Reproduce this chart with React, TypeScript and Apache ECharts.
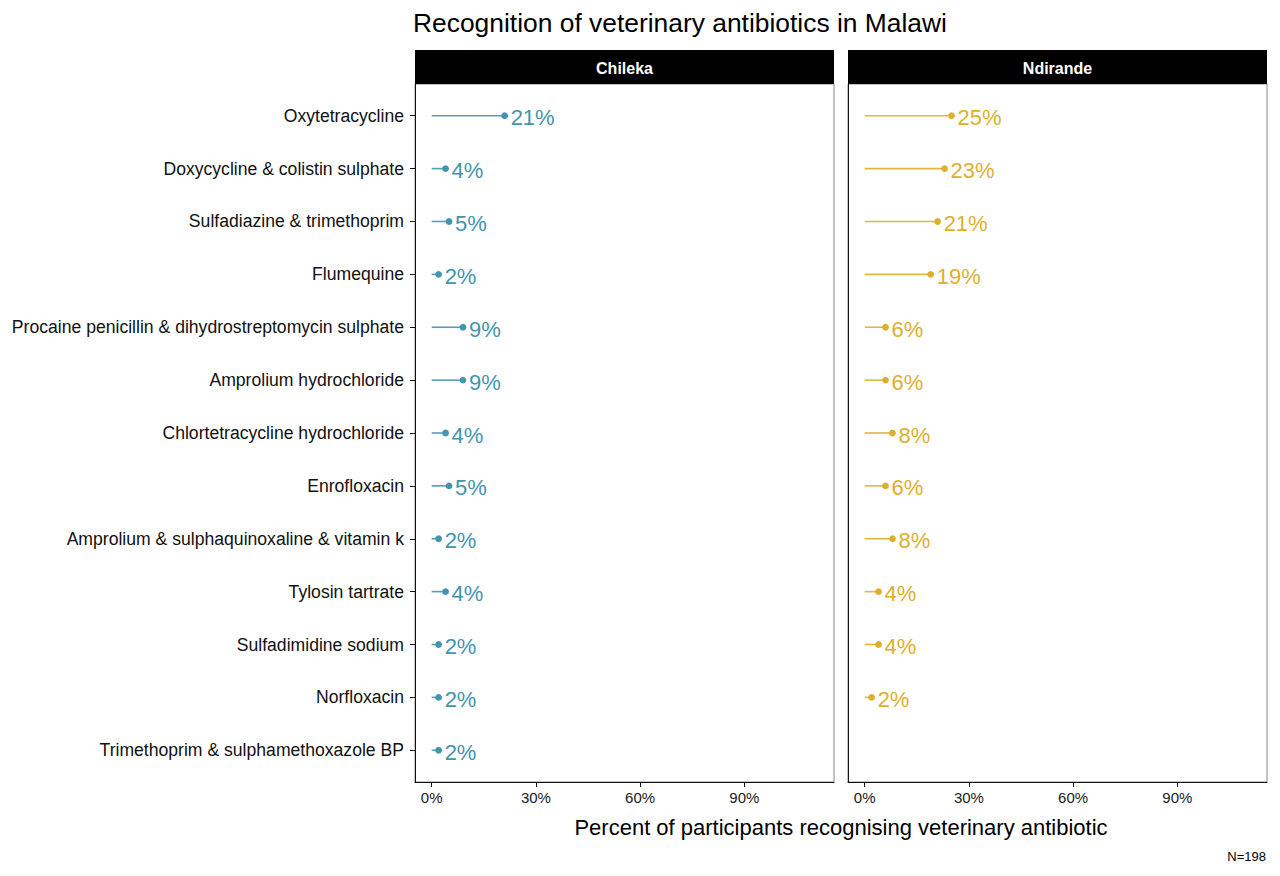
import React, { useEffect, useRef } from "react";
import * as echarts from "echarts";

// drug names, top to bottom
const drugs: string[] = [
  "Oxytetracycline",
  "Doxycycline & colistin sulphate",
  "Sulfadiazine & trimethoprim",
  "Flumequine",
  "Procaine penicillin & dihydrostreptomycin sulphate",
  "Amprolium hydrochloride",
  "Chlortetracycline hydrochloride",
  "Enrofloxacin",
  "Amprolium & sulphaquinoxaline & vitamin k",
  "Tylosin tartrate",
  "Sulfadimidine sodium",
  "Norfloxacin",
  "Trimethoprim & sulphamethoxazole BP",
];

const sites: string[] = ["Chileka", "Ndirande"];

// percent recognising, null = not reported
const chileka: (number | null)[] = [21, 4, 5, 2, 9, 9, 4, 5, 2, 4, 2, 2, 2];
const ndirande: (number | null)[] = [25, 23, 21, 19, 6, 6, 8, 6, 8, 4, 4, 2, null];

const xTicks: number[] = [0, 30, 60, 90];

const siteColors = ["#4394AF", "#DEAF2C"];
const FONT = "'Liberation Sans', Arial, Helvetica, sans-serif";

const panelLeft = [415, 848];
const panelWidth = 419;
const panelTop = 84;
const panelHeight = 698;

const App = () => {
  const chartRef = useRef<HTMLDivElement | null>(null);

  useEffect(() => {
    document.body.style.margin = "0";
    const chart = echarts.init(chartRef.current as HTMLDivElement, null, { renderer: "svg" });

    const rowIdx = drugs.map((_, i) => i);

    const lollipop = (vals: (number | null)[], k: number) => ({
      type: "custom",
      xAxisIndex: k,
      yAxisIndex: k,
      data: vals
        .map((v, i) => (v == null ? null : [v, i]))
        .filter((d) => d != null),
      renderItem: (params: any, api: any) => {
        const v = api.value(0);
        const i = api.value(1);
        const p0 = api.coord([0, i]);
        const p1 = api.coord([v, i]);
        const c = siteColors[k];
        return {
          type: "group",
          children: [
            {
              type: "line",
              shape: { x1: p0[0], y1: p0[1], x2: p1[0], y2: p1[1] },
              style: { stroke: c, lineWidth: 1.6, opacity: 0.9 },
            },
            {
              type: "circle",
              shape: { cx: p1[0], cy: p1[1], r: 3.4 },
              style: { fill: c },
            },
            {
              type: "text",
              x: p1[0] + 6,
              y: p1[1] + 2,
              style: {
                text: v + "%",
                fill: c,
                font: `22px ${FONT}`,
                verticalAlign: "middle",
                align: "left",
              },
            },
          ],
        };
      },
    });

    const xAxis = (k: number) => ({
      type: "value",
      gridIndex: k,
      min: -4.8,
      max: 115.8,
      axisLine: { show: true, onZero: false, lineStyle: { color: "#111", width: 1 } },
      axisTick: { show: true, customValues: xTicks, length: 5, lineStyle: { color: "#111" } },
      axisLabel: {
        customValues: xTicks,
        formatter: (v: number) => v + "%",
        fontFamily: FONT,
        fontSize: 15,
        color: "#1a1a1a",
        margin: 8,
      },
      splitLine: { show: false },
    });

    const yAxis = (k: number) => ({
      type: "value",
      gridIndex: k,
      min: -0.6,
      max: 12.6,
      inverse: true,
      axisLine: { show: true, onZero: false, lineStyle: { color: "#111", width: 1 } },
      axisTick: { show: k === 0, customValues: rowIdx, length: 5, lineStyle: { color: "#111" } },
      axisLabel: {
        show: k === 0,
        customValues: rowIdx,
        formatter: (v: number) => drugs[Math.round(v)] ?? "",
        fontFamily: FONT,
        fontSize: 17.6,
        color: "#111",
        margin: 11,
      },
      splitLine: { show: false },
    });

    const strips: any[] = [];
    sites.forEach((s, k) => {
      strips.push({
        type: "rect",
        shape: { x: panelLeft[k], y: 50, width: panelWidth, height: panelTop - 50 },
        style: { fill: "#000" },
      });
      strips.push({
        type: "text",
        x: panelLeft[k] + panelWidth / 2,
        y: 68,
        style: {
          text: s,
          fill: "#fff",
          font: `bold 16px ${FONT}`,
          align: "center",
          verticalAlign: "middle",
        },
      });
    });

    const options = {
      animation: false,
      backgroundColor: "#fff",
      grid: sites.map((_, k) => ({
        left: panelLeft[k],
        top: panelTop,
        width: panelWidth,
        height: panelHeight,
        show: true,
        borderColor: "#888",
        borderWidth: 1,
      })),
      xAxis: sites.map((_, k) => xAxis(k)),
      yAxis: sites.map((_, k) => yAxis(k)),
      series: [lollipop(chileka, 0), lollipop(ndirande, 1)],
      graphic: [
        {
          type: "text",
          x: 413,
          y: 23,
          style: {
            text: "Recognition of veterinary antibiotics in Malawi",
            fill: "#000",
            font: `26.4px ${FONT}`,
            verticalAlign: "middle",
          },
        },
        ...strips,
        {
          type: "text",
          x: (panelLeft[0] + panelLeft[1] + panelWidth) / 2,
          y: 827,
          style: {
            text: "Percent of participants recognising veterinary antibiotic",
            fill: "#000",
            font: `22px ${FONT}`,
            align: "center",
            verticalAlign: "middle",
          },
        },
        {
          type: "text",
          x: 1266,
          y: 856,
          style: {
            text: "N=198",
            fill: "#000",
            font: `13px ${FONT}`,
            align: "right",
            verticalAlign: "middle",
          },
        },
      ],
    };

    chart.setOption(options as any);
    return () => {
      chart.dispose();
    };
  }, []);

  return <div ref={chartRef} style={{ width: 1280, height: 876 }}></div>;
};

export default App;
